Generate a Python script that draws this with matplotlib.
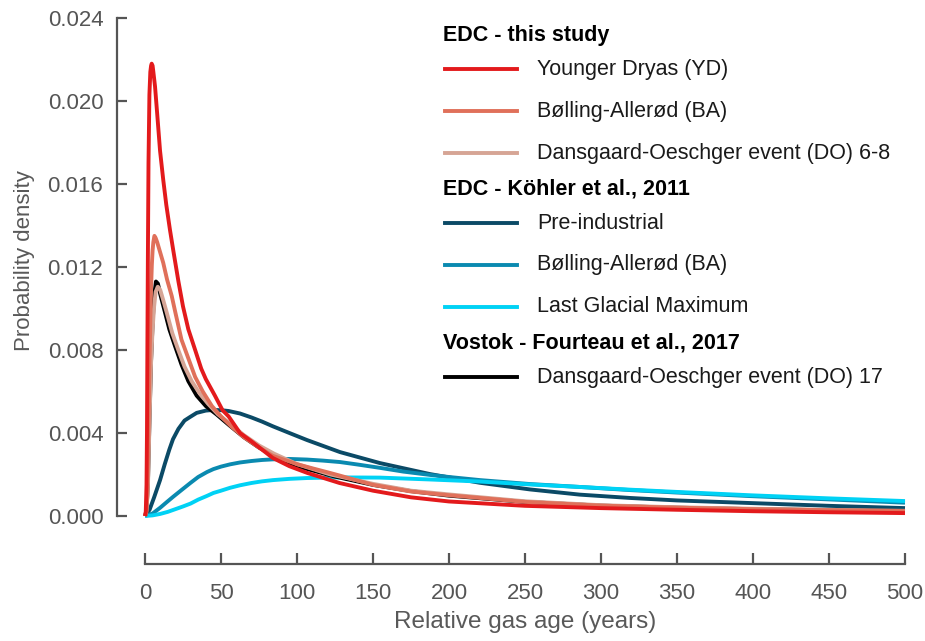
import matplotlib
matplotlib.use("Agg")
import matplotlib.pyplot as plt

plt.rcParams['font.family'] = ['Liberation Sans', 'DejaVu Sans']

# gas age distributions, read as (age, density) pairs
yd_age = [0, 0.5, 1, 1.3, 1.6, 1.9, 2.3, 2.9, 3.5, 4, 4.4, 5, 5.5, 6.6, 8, 9.9, 12, 14, 16.4,
          18.6, 22, 25, 28.5, 33, 37, 40, 46, 51, 55, 62.5, 70, 84, 95, 107, 128, 150, 175,
          200, 250, 300, 350, 400, 450, 500]
yd_pdf = [0, 0.0002, 0.0015, 0.004, 0.0085, 0.0125, 0.0170, 0.0203, 0.0214, 0.0217, 0.0218,
          0.0217, 0.0214, 0.0207, 0.0194, 0.0176, 0.0162, 0.0150, 0.0138, 0.0128, 0.0113,
          0.0101, 0.0090, 0.0080, 0.0071, 0.0066, 0.0058, 0.0051, 0.0048, 0.0040, 0.0036,
          0.0028, 0.0024, 0.00207, 0.00159, 0.00122, 0.0009, 0.0007, 0.00049, 0.00038,
          0.0003, 0.00023, 0.00018, 0.00014]

ba_age = [0, 1, 1.5, 2, 2.5, 3, 3.5, 4, 4.5, 5, 5.5, 6.2, 7, 8, 10, 12, 14.5, 17.6, 20, 24,
          28, 33, 38, 44, 50, 57, 65, 75, 84, 100, 110, 122, 128, 150, 175, 200, 250, 300,
          350, 400, 450, 500]
ba_pdf = [0, 0.0003, 0.001, 0.0028, 0.0052, 0.0075, 0.0094, 0.0110, 0.0121, 0.0128, 0.0132,
          0.0135, 0.0134, 0.0132, 0.0127, 0.0122, 0.0114, 0.0106, 0.0098, 0.0085, 0.0077,
          0.0067, 0.0060, 0.0053, 0.0048, 0.0043, 0.0038, 0.0033, 0.0029, 0.0025, 0.0023,
          0.00207, 0.00195, 0.0015, 0.00118, 0.001, 0.00068, 0.0005, 0.0004, 0.00033,
          0.00028, 0.00024]

do68_age = [0, 1, 2, 3, 4, 5, 6, 7, 8.4, 10, 12, 14.3, 18, 21.9, 26, 30.7, 36, 41.6, 48, 55,
            65, 75, 85, 100, 122, 150, 175, 200, 250, 300, 350, 400, 450, 500]
do68_pdf = [0, 0.0002, 0.0016, 0.0046, 0.0074, 0.0090, 0.0101, 0.0108, 0.01105, 0.0109,
            0.0104, 0.0098, 0.0088, 0.0080, 0.0072, 0.0065, 0.0059, 0.0054, 0.0049, 0.0045,
            0.0039, 0.0034, 0.0030, 0.0025, 0.0020, 0.00155, 0.00122, 0.00104, 0.00071,
            0.00052, 0.00042, 0.00035, 0.00029, 0.00025]

pi_age = [0, 3, 6, 9.9, 13, 16, 18.4, 22, 26, 29.6, 34, 40, 44.7, 50, 55, 62.5, 70, 77, 84.2,
          95, 106.6, 128.3, 154.6, 187.5, 220.4, 253.3, 286, 319, 350, 400, 450, 500]
pi_pdf = [0, 0.0003, 0.0009, 0.00173, 0.0025, 0.0032, 0.0037, 0.0042, 0.0046, 0.00477,
          0.00497, 0.00508, 0.00511, 0.0051, 0.00506, 0.00494, 0.00475, 0.00455, 0.00432,
          0.0040, 0.00366, 0.00308, 0.00255, 0.00202, 0.0016, 0.00128, 0.00103, 0.00087,
          0.00075, 0.00062, 0.00049, 0.00038]

bak_age = [0, 5, 10, 14, 18.4, 24, 30, 35, 40.8, 45, 50, 56, 62.5, 70, 77, 84.2, 95, 106.6,
           117, 128.3, 140, 154.6, 170, 187.5, 200, 220.4, 253.3, 286, 319, 350, 398, 450, 500]
bak_pdf = [0, 0.00012, 0.0004, 0.00065, 0.00092, 0.00125, 0.0016, 0.00188, 0.00212, 0.00226,
           0.00238, 0.00249, 0.00258, 0.00265, 0.0027, 0.00273, 0.00275, 0.00272, 0.00267,
           0.0026, 0.00248, 0.00232, 0.00214, 0.00198, 0.00188, 0.00173, 0.00154, 0.0014,
           0.00125, 0.00113, 0.00096, 0.0008, 0.00064]

lgm_age = [0, 5, 10, 15, 20, 25, 30, 35, 40.8, 45, 50, 56, 62.5, 70, 77, 84.2, 95, 106.6,
           128.3, 154.6, 187.5, 220.4, 253.3, 286, 319, 350, 398, 450, 500]
lgm_pdf = [0, 0.00003, 0.0001, 0.0002, 0.00033, 0.00046, 0.0006, 0.00079, 0.00097, 0.00111,
           0.00122, 0.00136, 0.00148, 0.00159, 0.00167, 0.00173, 0.00179, 0.00183, 0.00186,
           0.00185, 0.00176, 0.00166, 0.00152, 0.0014, 0.00127, 0.00116, 0.001, 0.00085,
           0.00072]

do17_age = [0, 1, 2, 3, 4, 5, 6, 7.2, 8.5, 10, 13.2, 16, 19.7, 24, 28.5, 34, 40, 47, 55, 65,
            75, 85, 100, 125, 150, 175, 200, 250, 300, 350, 400, 450, 500]
do17_pdf = [0, 0.0002, 0.0018, 0.0048, 0.0075, 0.0093, 0.0106, 0.0113, 0.0112, 0.0107,
            0.0098, 0.0090, 0.0082, 0.0073, 0.0065, 0.0058, 0.0053, 0.0049, 0.0044, 0.0038,
            0.0033, 0.0029, 0.0024, 0.0019, 0.0015, 0.0012, 0.00098, 0.00068, 0.0005,
            0.0004, 0.00033, 0.00028, 0.00024]

c_yd = '#e31a1c'
c_ba = '#e0705a'
c_do68 = '#d6a595'
c_pi = '#0b4a66'
c_bak = '#0a8ab0'
c_lgm = '#00d2f5'
c_do17 = '#000000'

groups = [
    ("EDC - this study", [("Younger Dryas (YD)", c_yd),
                          ("Bølling-Allerød (BA)", c_ba),
                          ("Dansgaard-Oeschger event (DO) 6-8", c_do68)]),
    ("EDC - Köhler et al., 2011", [("Pre-industrial", c_pi),
                                   ("Bølling-Allerød (BA)", c_bak),
                                   ("Last Glacial Maximum", c_lgm)]),
    ("Vostok - Fourteau et al., 2017", [("Dansgaard-Oeschger event (DO) 17", c_do17)]),
]

W, H = 925, 641
fig = plt.figure(figsize=(W / 100, H / 100), dpi=100)
ax = fig.add_axes([145 / W, 1 - 516 / H, 760 / W, 498 / H])

lw = 2.8
for age, pdf, col in [(pi_age, pi_pdf, c_pi), (bak_age, bak_pdf, c_bak),
                      (lgm_age, lgm_pdf, c_lgm), (do17_age, do17_pdf, c_do17),
                      (do68_age, do68_pdf, c_do68), (ba_age, ba_pdf, c_ba),
                      (yd_age, yd_pdf, c_yd)]:
    ax.plot(age, pdf, color=col, lw=lw, clip_on=False, solid_capstyle='butt')

ax.set_xlim(0, 500)
ax.set_ylim(0, 0.024)
ax.set_xticks(range(0, 501, 50))
ax.set_yticks([0, 0.004, 0.008, 0.012, 0.016, 0.020, 0.024])
ax.set_yticklabels(["%.3f" % v for v in ax.get_yticks()])

grey = '#555555'
for side in ['top', 'right']:
    ax.spines[side].set_visible(False)
ax.spines['left'].set_position(('outward', 20))
ax.spines['bottom'].set_position(('outward', 34.5))
ax.spines['left'].set_bounds(0, 0.024)
ax.spines['bottom'].set_bounds(0, 500)
for side in ['left', 'bottom']:
    ax.spines[side].set_color(grey)
    ax.spines[side].set_linewidth(1.6)

ax.tick_params(axis='y', direction='in', length=7.5, width=1.6, color=grey,
               labelcolor=grey, labelsize=16, pad=10)
ax.tick_params(axis='x', direction='in', length=8, width=1.6, color=grey,
               labelcolor=grey, labelsize=16, pad=14)

ax.set_xlabel("Relative gas age (years)", fontsize=17.5, color='#595959')
ax.xaxis.set_label_coords(0.5, -0.19)
ax.set_ylabel("Probability density", fontsize=16, color='#595959')
ax.yaxis.set_label_coords(-0.145, 0.512)

# grouped legend with bold headers
def fy(py):
    return 1 - py / H

y = 35
for title, items in groups:
    fig.text(443 / W, fy(y), title, fontsize=15.5, fontweight='bold', color='black',
             va='center', ha='left')
    y += 34
    for label, col in items:
        fig.add_artist(plt.Line2D([445 / W, 517 / W], [fy(y), fy(y)], color=col, lw=lw,
                                  transform=fig.transFigure))
        fig.text(537 / W, fy(y), label, fontsize=15.5, color='#1a1a1a',
                 va='center', ha='left')
        y += 42
    y -= 6

fig.savefig("out.png", dpi=100)
